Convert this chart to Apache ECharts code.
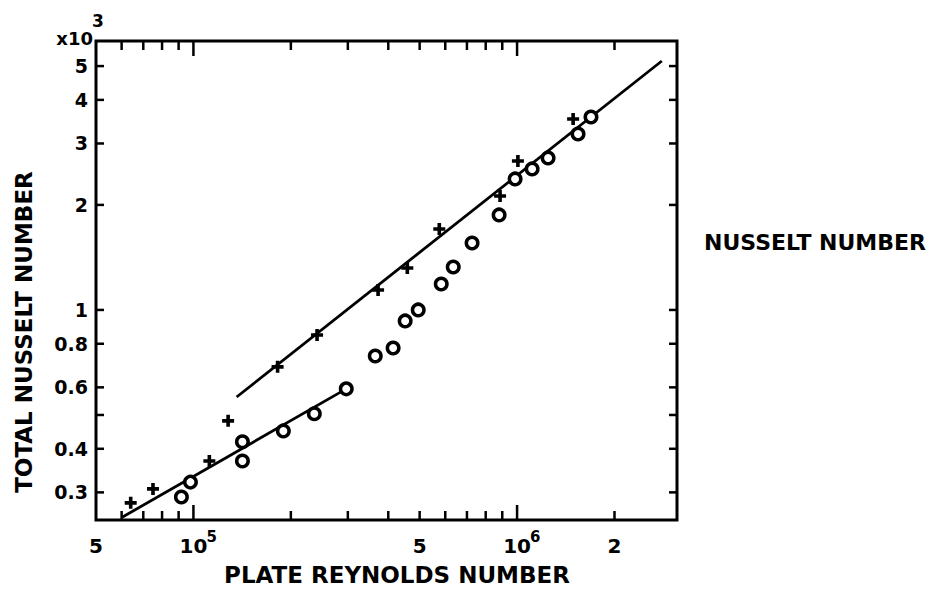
<!DOCTYPE html>
<html>
<head>
<meta charset="utf-8">
<script src="https://cdn.jsdelivr.net/npm/echarts@6/dist/echarts.min.js"></script>
<style>
  html, body { margin: 0; padding: 0; background: #fff; }
  #chart { width: 936px; height: 596px; }
</style>
</head>
<body>
<div id="chart"></div>
<script>
// Plate Reynolds number vs. total Nusselt number (in thousands), log-log axes.

// "+" points
const plusRe = [6.4e4, 7.5e4, 1.12e5, 1.28e5, 1.82e5, 2.41e5, 3.72e5, 4.58e5, 5.75e5, 8.86e5, 1.006e6, 1.49e6];
const plusNu = [0.280, 0.307, 0.369, 0.481, 0.687, 0.848, 1.141, 1.319, 1.706, 2.122, 2.673, 3.526];

// "o" points
const circleRe = [9.18e4, 9.79e4, 1.417e5, 1.417e5, 1.896e5, 2.363e5, 2.966e5, 3.646e5, 4.14e5, 4.51e5,
                  4.95e5, 5.83e5, 6.35e5, 7.26e5, 8.80e5, 9.86e5, 1.113e6, 1.247e6, 1.543e6, 1.692e6];
const circleNu = [0.291, 0.321, 0.419, 0.369, 0.450, 0.504, 0.594, 0.738, 0.778, 0.930,
                  1.0, 1.187, 1.328, 1.556, 1.872, 2.374, 2.536, 2.727, 3.194, 3.573];

// straight-line fits (end points)
const upperFitRe = [1.36e5, 2.8e6];
const upperFitNu = [0.563, 5.17];
const lowerFitRe = [6.04e4, 2.966e5];
const lowerFitNu = [0.255, 0.594];

// axis ranges and ticks
const xRange = [5e4, 3.12e6];
const yRange = [0.25, 5.9];
const xMajorTicks = [1e5, 1e6];
const xMinorTicks = [6e4, 7e4, 8e4, 9e4, 2e5, 3e5, 4e5, 5e5, 6e5, 7e5, 8e5, 9e5, 2e6];
const yTicks = [0.3, 0.4, 0.5, 0.6, 0.8, 1, 2, 3, 4, 5];
const xLabelValues = [5e4, 1e5, 5e5, 1e6, 2e6];
const xLabelTexts = ['5', '10^5', '5', '10^6', '2'];
const yLabelValues = [0.3, 0.4, 0.6, 0.8, 1, 2, 3, 4, 5];
const yLabelTexts = ['0.3', '0.4', '0.6', '0.8', '1', '2', '3', '4', '5'];

const FONT = '"DejaVu Sans", "Liberation Sans", sans-serif';
const INK = '#000';

function lineEl(x1, y1, x2, y2) {
  return { type: 'line', shape: { x1, y1, x2, y2 }, style: { stroke: INK, lineWidth: 2.5 } };
}
function textEl(x, y, text, size, align, vAlign) {
  return {
    type: 'text', x, y,
    style: {
      text, fill: INK, font: 'bold ' + size + 'px ' + FONT,
      align, textAlign: align, verticalAlign: vAlign, textVerticalAlign: vAlign
    }
  };
}

// inward ticks on bottom and top edges
function xTickRenderer(len) {
  return function (params, api) {
    const cs = params.coordSys;
    const px = api.coord([api.value(0), yRange[0]])[0];
    const top = cs.y, bottom = cs.y + cs.height;
    return {
      type: 'group',
      children: [lineEl(px, bottom, px, bottom - len), lineEl(px, top, px, top + len)]
    };
  };
}
// inward ticks on left and right edges
function yTickRenderer(params, api) {
  const cs = params.coordSys;
  const py = api.coord([xRange[0], api.value(1)])[1];
  const left = cs.x, right = cs.x + cs.width;
  return {
    type: 'group',
    children: [lineEl(left, py, left + 8, py), lineEl(right, py, right - 8, py)]
  };
}
function xLabelRenderer(params, api) {
  const cs = params.coordSys;
  const i = params.dataIndex;
  const px = api.coord([api.value(0), yRange[0]])[0];
  const y = cs.y + cs.height + 26;
  const parts = xLabelTexts[i].split('^');
  const children = [textEl(px, y, parts[0], 20, 'center', 'middle')];
  if (parts[1]) children.push(textEl(px + 13, y - 9, parts[1], 15, 'left', 'middle'));
  return { type: 'group', children };
}
function yLabelRenderer(params, api) {
  const cs = params.coordSys;
  const i = params.dataIndex;
  const py = api.coord([xRange[0], api.value(1)])[1];
  return textEl(cs.x - 8, py, yLabelTexts[i], 19, 'right', 'middle');
}

const plusSymbol = 'path://M3.5,0H6.5V3.5H10V6.5H6.5V10H3.5V6.5H0V3.5H3.5Z';

const chart = echarts.init(document.getElementById('chart'), null, { renderer: 'svg' });
chart.setOption({
  animation: false,
  backgroundColor: '#fff',
  grid: {
    left: 96, top: 41, width: 581, height: 479,
    show: true, borderColor: INK, borderWidth: 3, backgroundColor: 'transparent',
    containLabel: false, outerBoundsMode: 'none'
  },
  xAxis: {
    type: 'log', logBase: 10, min: xRange[0], max: xRange[1],
    axisLine: { show: false }, axisTick: { show: false },
    axisLabel: { show: false }, splitLine: { show: false }
  },
  yAxis: {
    type: 'log', logBase: 10, min: yRange[0], max: yRange[1],
    axisLine: { show: false }, axisTick: { show: false },
    axisLabel: { show: false }, splitLine: { show: false }
  },
  graphic: [
    textEl(93, 38, 'x10', 18, 'right', 'middle'),
    textEl(92, 21, '3', 17, 'left', 'middle'),
    {
      type: 'text', x: 24, y: 332, rotation: Math.PI / 2,
      style: {
        text: 'TOTAL NUSSELT NUMBER', fill: INK, font: 'bold 23px ' + FONT,
        align: 'center', textAlign: 'center', verticalAlign: 'middle', textVerticalAlign: 'middle'
      }
    },
    textEl(397, 575, 'PLATE REYNOLDS NUMBER', 23, 'center', 'middle'),
    textEl(815, 242, 'NUSSELT NUMBER', 22, 'center', 'middle')
  ],
  series: [
    {
      type: 'line', name: 'upper fit',
      data: upperFitRe.map((x, i) => [x, upperFitNu[i]]),
      showSymbol: false, symbol: 'none', lineStyle: { color: INK, width: 2.8 }, z: 2, silent: true
    },
    {
      type: 'line', name: 'lower fit',
      data: lowerFitRe.map((x, i) => [x, lowerFitNu[i]]),
      showSymbol: false, symbol: 'none', lineStyle: { color: INK, width: 2.8 }, z: 2, silent: true
    },
    {
      type: 'scatter', name: '+',
      data: plusRe.map((x, i) => [x, plusNu[i]]),
      symbol: plusSymbol, symbolSize: 12,
      itemStyle: { color: INK, opacity: 1 }, z: 3, silent: true
    },
    {
      type: 'scatter', name: 'o',
      data: circleRe.map((x, i) => [x, circleNu[i]]),
      symbol: 'circle', symbolSize: 11.5,
      itemStyle: { color: '#fff', borderColor: INK, borderWidth: 3.5, opacity: 1 }, z: 4, silent: true
    },
    {
      type: 'custom', name: 'x major ticks', renderItem: xTickRenderer(15),
      data: xMajorTicks.map(v => [v, yRange[0]]), z: 5, silent: true
    },
    {
      type: 'custom', name: 'x minor ticks', renderItem: xTickRenderer(9),
      data: xMinorTicks.map(v => [v, yRange[0]]), z: 5, silent: true
    },
    {
      type: 'custom', name: 'y ticks', renderItem: yTickRenderer,
      data: yTicks.map(v => [xRange[0], v]), z: 5, silent: true
    },
    {
      type: 'custom', name: 'x labels', renderItem: xLabelRenderer,
      data: xLabelValues.map(v => [v, yRange[0]]), z: 5, silent: true
    },
    {
      type: 'custom', name: 'y labels', renderItem: yLabelRenderer,
      data: yLabelValues.map(v => [xRange[0], v]), z: 5, silent: true
    }
  ]
});
</script>
</body>
</html>
